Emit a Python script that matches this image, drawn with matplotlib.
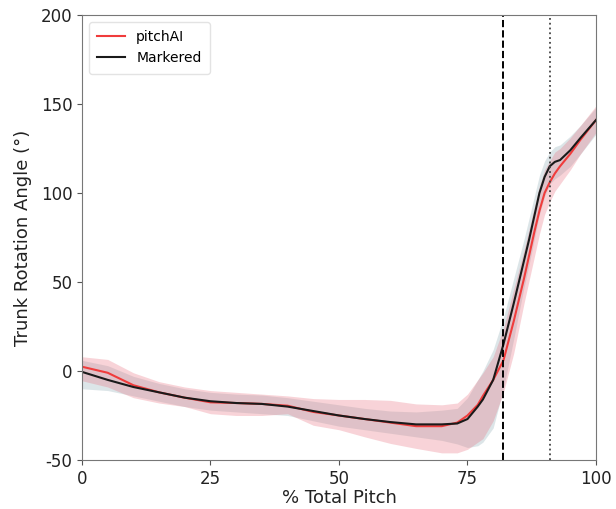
import matplotlib
matplotlib.use("Agg")
import matplotlib.pyplot as plt

plt.rcParams['axes.unicode_minus'] = False

pct = [0, 5, 10, 15, 20, 25, 30, 35, 40, 45, 50, 55, 60, 65, 70, 73, 75, 77, 78, 80, 82, 84, 86, 87, 88, 89, 90, 91, 92, 93, 95, 97, 100]

markered_mean = [-0.5, -5, -9, -12, -15, -17, -18, -18.5, -20, -22.5, -25, -27, -28.7, -30, -30, -29.5, -27, -20, -16, -5, 15, 38, 62, 74, 87, 100, 109, 115, 117.5, 118.5, 124, 131, 141]
markered_lo = [-10, -11, -14, -17, -20, -22, -23, -24, -25, -28, -31, -33, -35, -37, -39, -41, -43, -42, -40, -32, -10, 18, 47, 60, 74, 88, 98, 105, 108, 110, 115, 122, 133]
markered_hi = [6, 3, -3, -7, -10, -12, -13, -13.5, -15, -17, -19, -21, -22.5, -23, -22, -21, -15, -5, 0, 12, 30, 52, 74, 86, 98, 110, 118, 123, 126, 127, 132, 138, 148]

pitchai_mean = [2.4, -1, -8, -12, -15, -17.6, -18, -18.5, -19.5, -23, -25, -27, -29, -31, -31, -29, -25, -19, -14, -5, 6, 28, 52, 65, 78, 90, 100, 106, 111, 115, 122, 130, 141]
pitchai_lo = [-5.5, -9, -15, -18, -20, -24, -25, -25, -24, -30.5, -33, -37, -40.7, -43.5, -46, -46, -44, -40, -38, -28, -12, 10, 38, 51, 64, 77, 88, 95, 101, 105, 113, 122, 134]
pitchai_hi = [8, 6.5, -1, -6, -9, -11, -12, -13, -14, -15.5, -16, -16, -16.5, -18.5, -19, -18, -13, -5, -1, 8, 24, 46, 68, 80, 92, 104, 113, 118, 123, 125, 131, 138, 149]

event_dashed = 82
event_dotted = 91

fig = plt.figure(figsize=(6.16, 5.09), dpi=100)
ax = fig.add_axes([0.1331, 0.0963, 0.8344, 0.8742])

ax.fill_between(pct, markered_lo, markered_hi, color='#b3c7cc', alpha=0.45, linewidth=0)
ax.fill_between(pct, pitchai_lo, pitchai_hi, color='#e8707e', alpha=0.3, linewidth=0)
ax.plot(pct, pitchai_mean, color='#f03c3c', lw=1.5, label='pitchAI')
ax.plot(pct, markered_mean, color='#1a1a1a', lw=1.5, label='Markered')

ax.axvline(event_dashed, color='black', ls='--', lw=1.4)
ax.axvline(event_dotted, color='#444444', ls=':', lw=1.3)

ax.set_xlim(0, 100)
ax.set_ylim(-50, 200)
ax.set_xticks([0, 25, 50, 75, 100])
ax.set_yticks([-50, 0, 50, 100, 150, 200])
ax.tick_params(labelsize=12, color='#555555', labelcolor='#222222')
for s in ax.spines.values():
    s.set_color('#777777')
ax.set_xlabel('% Total Pitch', fontsize=13, labelpad=1, color='#222222')
ax.set_ylabel('Trunk Rotation Angle (°)', fontsize=13, labelpad=6, color='#222222')
leg = ax.legend(loc='upper left', fontsize=10, frameon=True, borderpad=0.6)
leg.get_frame().set_edgecolor('#dddddd')

fig.savefig('out.png', dpi=100)
